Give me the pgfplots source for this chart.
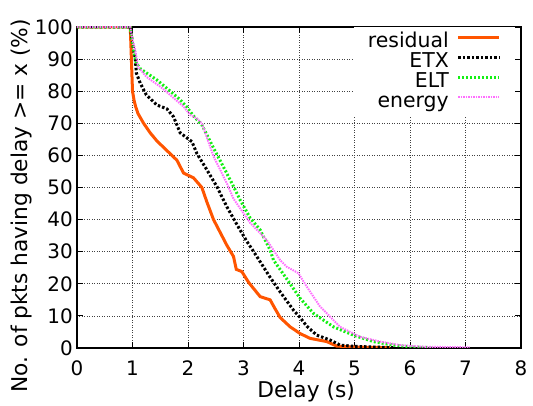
\documentclass[border=0pt]{standalone}
\usepackage{fontspec}
\setmainfont{DejaVu Sans}
\usepackage{pgfplots}
\pgfplotsset{compat=1.18}
\definecolor{cres}{RGB}{255,85,0}
\definecolor{celt}{RGB}{20,240,20}
\definecolor{cen}{RGB}{255,110,255}
\begin{document}
\begin{tikzpicture}
\useasboundingbox (-77bp,-58bp) rectangle (456bp,348bp);
\begin{axis}[
 scale only axis, width=444bp, height=321bp,
 at={(0,0)}, anchor=south west,
 xmin=0, xmax=8, ymin=0, ymax=100,
 xtick={0,1,...,8}, ytick={0,10,...,100},
 tick align=inside, tick pos=both, major tick length=6bp,
 grid=major,
 major grid style={black!75, line width=0.6bp, dash pattern=on 1bp off 1.5bp},
 axis line style={line width=1.4bp},
 tick style={black, line width=0.8bp},
 /pgf/number format/assume math mode=true,
 ticklabel style={font=\fontsize{20}{20}\selectfont, inner sep=0pt},
 yticklabel style={xshift=-4bp},
 xticklabel style={yshift=-13bp},
 xlabel={Delay (s)},
 ylabel={No. of pkts having delay >= x (\%)},
 label style={font=\fontsize{21.8}{21.8}\selectfont},
 xlabel style={at={(axis description cs:0.516,-0.137)}, anchor=center},
 ylabel style={at={(axis description cs:-0.124,0.443)}, anchor=center},
 legend style={draw=none, fill=white, at={(axis description cs:0.9865,1)}, anchor=north east,
   inner xsep=14bp, inner ysep=5bp, font=\fontsize{20.5}{20.5}\selectfont,
   column sep=8bp, row sep=0pt, nodes={inner sep=0pt, text height=15bp, text depth=5bp}},
 legend cell align=right, legend plot pos=right,
 legend image code/.code={\draw[#1, line cap=butt] (0bp,5bp) -- (41bp,5bp);},
]
\addplot[cres, line width=3bp] coordinates {
(0,100) (0.96,100) (0.98,90) (1.00,80) (1.03,77) (1.06,75) (1.10,73) (1.2,70)
(1.32,67) (1.44,64.5) (1.62,61.5) (1.80,58.5) (1.92,54.5) (2.10,53) (2.25,50)
(2.34,45.5) (2.46,40) (2.58,36) (2.70,32) (2.82,28.5) (2.87,24.5) (2.97,23.8)
(3.09,20.5) (3.30,16) (3.48,15) (3.56,12.5) (3.66,9.5) (3.84,6.6) (4.02,4.5)
(4.20,3) (4.50,2) (4.68,0.6) (5.0,0.3) (5.64,0.1)};
\addlegendentry{residual}
\addplot[black, line width=3bp, dash pattern=on 2.5bp off 2bp] coordinates {
(0,100) (0.96,100) (1.0,95) (1.05,90) (1.07,85.6) (1.14,82.5) (1.25,78.8)
(1.44,75.7) (1.62,74.5) (1.74,72) (1.86,67) (2.07,64.3) (2.16,60.6) (2.34,55.5)
(2.52,50.3) (2.70,44.0) (2.88,38.5) (3.05,33.5) (3.24,28.5) (3.48,22) (3.66,17.5)
(3.90,11.8) (4.02,9.5) (4.14,6.8) (4.32,4.0) (4.56,2.5) (4.74,0.9) (5.0,0.5) (5.70,0.1)};
\addlegendentry{ETX}
\addplot[celt, line width=3bp, dash pattern=on 2bp off 2bp] coordinates {
(0,100) (0.96,100) (1.0,95) (1.05,90) (1.07,88.7) (1.14,87) (1.44,83.5) (1.68,80)
(1.86,77.3) (1.98,75) (2.10,72.3) (2.25,69.5) (2.46,62.3) (2.70,54.4) (2.82,50.3)
(2.94,46.1) (3.12,40.5) (3.30,36.8) (3.48,30.5) (3.54,27.4) (3.78,21.5) (4.02,15.5)
(4.26,10.8) (4.62,6.6) (4.98,4.0) (5.34,2.0) (5.70,0.9) (6.06,0.3) (6.4,0.1)};
\addlegendentry{ELT}
\addplot[cen, line width=2bp, dash pattern=on 1.5bp off 1bp] coordinates {
(0,100) (0.96,100) (1.0,96) (1.05,92.8) (1.10,87.6) (1.25,84.5) (1.50,81.4)
(1.68,78.8) (1.92,75.2) (2.04,72.6) (2.16,71.5) (2.25,70) (2.46,59.7) (2.70,51.3)
(2.82,46.5) (2.88,45) (3.12,39) (3.42,33.6) (3.66,27.4) (3.78,25.3) (3.99,23.3)
(4.14,19.1) (4.38,12.9) (4.74,6.6) (5.10,3.5) (5.46,2.0) (5.82,0.9) (6.2,0.4) (7.08,0.2)};
\addlegendentry{energy}
\end{axis}
\end{tikzpicture}
\end{document}
